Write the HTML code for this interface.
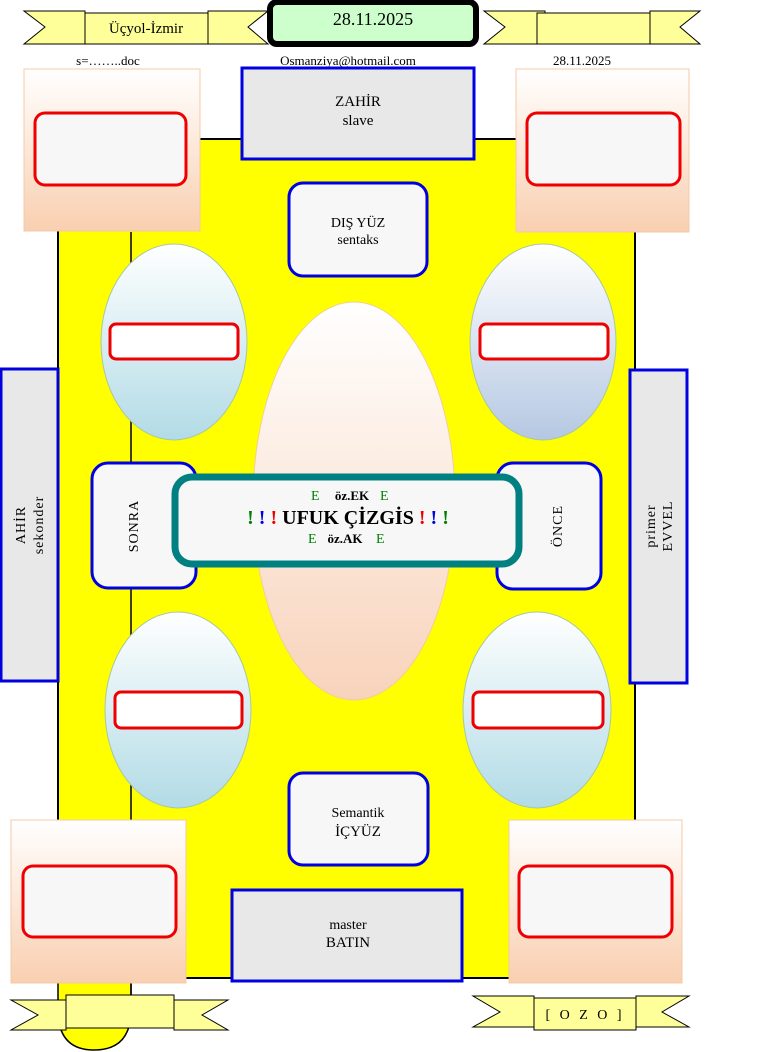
<!DOCTYPE html>
<html><head><meta charset="utf-8"><style>
html,body{margin:0;padding:0;background:#fff;width:771px;height:1052px;overflow:hidden}
svg{display:block}
text{font-family:"Liberation Serif",serif;fill:#000}
</style></head><body>
<svg width="771" height="1052" viewBox="0 0 771 1052" xmlns="http://www.w3.org/2000/svg">
<defs>
<linearGradient id="peach" x1="0" y1="0" x2="0" y2="1"><stop offset="0" stop-color="#fff"/><stop offset="1" stop-color="#f9cfb0"/></linearGradient>
<linearGradient id="blue1" x1="0" y1="0" x2="0" y2="1"><stop offset="0" stop-color="#fff"/><stop offset="1" stop-color="#b2dbe6"/></linearGradient>
<linearGradient id="blue2" x1="0" y1="0" x2="0" y2="1"><stop offset="0" stop-color="#fff"/><stop offset="1" stop-color="#b5c8e2"/></linearGradient>
<linearGradient id="egg" x1="0" y1="0" x2="0" y2="1"><stop offset="0" stop-color="#fff"/><stop offset="1" stop-color="#f8d3bb"/></linearGradient>
</defs>
<path d="M58,900 L58,1010 Q58,1050 94,1050 Q131,1050 131,1010 L131,900 Z" fill="#ffff00" stroke="#000" stroke-width="1.5"/>
<rect x="58" y="139" width="577" height="839" fill="#ffff00" stroke="#000" stroke-width="2"/>
<line x1="131" y1="232" x2="131" y2="1000" stroke="#000" stroke-width="1.5"/>

<polygon points="24,11 85,11 85,44 24,44 45,27" fill="#ffff99" stroke="#000"/>
<polygon points="208,11 268,11 248,27 268,44 208,44" fill="#ffff99" stroke="#000"/>
<rect x="85" y="13" width="123" height="31" fill="#ffff99" stroke="#000"/>
<text x="146" y="33" font-size="15" text-anchor="middle">Üçyol-İzmir</text>
<polygon points="484,11 545,11 545,44 484,44 505,27" fill="#ffff99" stroke="#000"/>
<polygon points="650,11 700,11 680,27 700,44 650,44" fill="#ffff99" stroke="#000"/>
<rect x="537" y="13" width="113" height="31" fill="#ffff99" stroke="#000"/>
<rect x="270" y="2" width="206" height="42" rx="7" fill="#ccffcc" stroke="#000" stroke-width="6"/>
<text x="373" y="25" font-size="18" text-anchor="middle">28.11.2025</text>

<text x="108" y="65" font-size="13" text-anchor="middle">s=……..doc</text>
<text x="348" y="65" font-size="13" text-anchor="middle">Osmanziya@hotmail.com</text>
<text x="582" y="65" font-size="13" text-anchor="middle">28.11.2025</text>

<rect x="24" y="69" width="176" height="162" fill="url(#peach)" stroke="#f4c9a8"/>
<rect x="35" y="113" width="151" height="72" rx="10" fill="#f7f7f7" stroke="#e00" stroke-width="3"/>
<rect x="516" y="69" width="173" height="163" fill="url(#peach)" stroke="#f4c9a8"/>
<rect x="527" y="113" width="153" height="72" rx="10" fill="#f7f7f7" stroke="#e00" stroke-width="3"/>

<rect x="242" y="68" width="232" height="91" fill="#e8e8e8" stroke="#0000e0" stroke-width="3"/>
<text x="358" y="106" font-size="15" text-anchor="middle">ZAHİR</text>
<text x="358" y="125" font-size="15" text-anchor="middle">slave</text>

<rect x="289" y="183" width="138" height="93" rx="14" fill="#f7f7f7" stroke="#0000e0" stroke-width="3"/>
<text x="358" y="227" font-size="14" text-anchor="middle">DIŞ YÜZ</text>
<text x="358" y="244" font-size="14" text-anchor="middle">sentaks</text>

<ellipse cx="174" cy="342" rx="73" ry="98" fill="url(#blue1)" stroke="#a8c8a0"/>
<rect x="110" y="324" width="128" height="35" rx="6" fill="#fff" stroke="#e00" stroke-width="3"/>
<ellipse cx="543" cy="342" rx="73" ry="98" fill="url(#blue2)" stroke="#a8c8a0"/>
<rect x="480" y="324" width="128" height="35" rx="6" fill="#fff" stroke="#e00" stroke-width="3"/>
<ellipse cx="178" cy="710" rx="73" ry="98" fill="url(#blue1)" stroke="#a8c8a0"/>
<rect x="115" y="692" width="127" height="36" rx="6" fill="#fff" stroke="#e00" stroke-width="3"/>
<ellipse cx="537" cy="710" rx="74" ry="98" fill="url(#blue1)" stroke="#a8c8a0"/>
<rect x="473" y="692" width="130" height="36" rx="6" fill="#fff" stroke="#e00" stroke-width="3"/>

<ellipse cx="354" cy="501" rx="101" ry="199" fill="url(#egg)" stroke="#f0d090"/>

<rect x="1" y="369" width="57" height="312" fill="#e8e8e8" stroke="#0000e0" stroke-width="3"/>
<text transform="translate(25,525) rotate(-90)" font-size="14" text-anchor="middle" letter-spacing="1">AHİR</text>
<text transform="translate(43,525) rotate(-90)" font-size="14" text-anchor="middle" letter-spacing="1">sekonder</text>
<rect x="630" y="370" width="57" height="313" fill="#e8e8e8" stroke="#0000e0" stroke-width="3"/>
<text transform="translate(655,526) rotate(-90)" font-size="14" text-anchor="middle" letter-spacing="1">primer</text>
<text transform="translate(672,526) rotate(-90)" font-size="14" text-anchor="middle" letter-spacing="1">EVVEL</text>

<rect x="92" y="463" width="104" height="125" rx="16" fill="#f7f7f7" stroke="#0000e0" stroke-width="3"/>
<text transform="translate(138,526) rotate(-90)" font-size="14" text-anchor="middle" letter-spacing="1">SONRA</text>
<rect x="497" y="463" width="104" height="126" rx="16" fill="#f7f7f7" stroke="#0000e0" stroke-width="3"/>
<text transform="translate(562,526) rotate(-90)" font-size="14" text-anchor="middle" letter-spacing="1">ÖNCE</text>

<rect x="175" y="477" width="344" height="87" rx="17" fill="#f7f7f7" stroke="#008080" stroke-width="7"/>
<text x="311" y="500" font-size="14" fill="#008000" style="fill:#008000">E</text>
<text x="352" y="500" font-size="13" font-weight="bold" text-anchor="middle">öz.EK</text>
<text x="380" y="500" font-size="14" style="fill:#008000">E</text>
<text x="348" y="524" font-size="20" font-weight="bold" text-anchor="middle"><tspan style="fill:#008000">!</tspan> <tspan style="fill:#0000e0">!</tspan> <tspan style="fill:#e00">!</tspan> UFUK ÇİZGİS <tspan style="fill:#e00">!</tspan> <tspan style="fill:#0000e0">!</tspan> <tspan style="fill:#008000">!</tspan></text>
<text x="308" y="543" font-size="14" style="fill:#008000">E</text>
<text x="345" y="543" font-size="13" font-weight="bold" text-anchor="middle">öz.AK</text>
<text x="376" y="543" font-size="14" style="fill:#008000">E</text>

<rect x="289" y="773" width="139" height="92" rx="14" fill="#f7f7f7" stroke="#0000e0" stroke-width="3"/>
<text x="358" y="817" font-size="14" text-anchor="middle">Semantik</text>
<text x="358" y="836" font-size="15" text-anchor="middle">İÇYÜZ</text>

<rect x="232" y="890" width="230" height="91" fill="#e8e8e8" stroke="#0000e0" stroke-width="3"/>
<text x="348" y="929" font-size="14" text-anchor="middle">master</text>
<text x="348" y="947" font-size="15" text-anchor="middle">BATIN</text>

<rect x="11" y="820" width="175" height="163" fill="url(#peach)" stroke="#f4c9a8"/>
<rect x="23" y="866" width="153" height="71" rx="10" fill="#f7f7f7" stroke="#e00" stroke-width="3"/>
<rect x="509" y="820" width="173" height="163" fill="url(#peach)" stroke="#f4c9a8"/>
<rect x="519" y="866" width="153" height="71" rx="10" fill="#f7f7f7" stroke="#e00" stroke-width="3"/>

<polygon points="11,1000 66,1000 66,1030 11,1030 38,1015" fill="#ffff99" stroke="#000"/>
<polygon points="174,1000 228,1000 202,1015 228,1030 174,1030" fill="#ffff99" stroke="#000"/>
<rect x="66" y="995" width="108" height="33" fill="#ffff99" stroke="#000"/>
<polygon points="473,996 534,996 534,1027 473,1027 500,1012" fill="#ffff99" stroke="#000"/>
<polygon points="636,996 689,996 662,1012 689,1027 636,1027" fill="#ffff99" stroke="#000"/>
<rect x="534" y="998" width="102" height="32" fill="#ffff99" stroke="#000"/>
<text x="585" y="1019" font-size="14" text-anchor="middle" letter-spacing="3">[ O Z O ]</text>
</svg>
</body></html>
